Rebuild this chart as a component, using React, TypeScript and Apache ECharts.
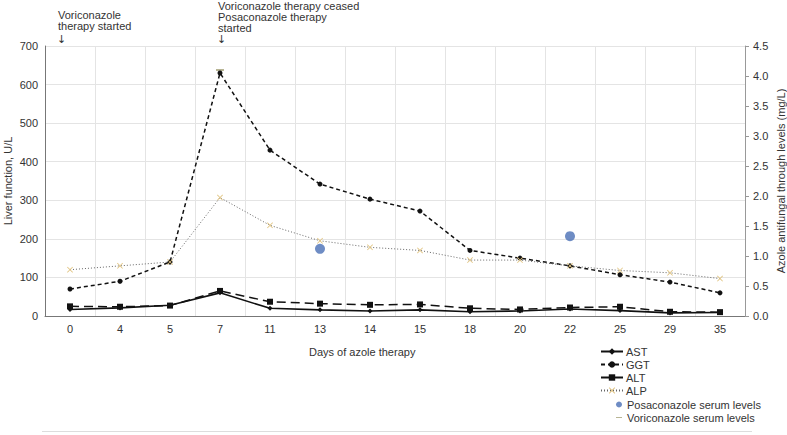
import React, { useEffect, useRef } from "react";
import * as echarts from "echarts";

const days = ["0", "4", "5", "7", "11", "13", "14", "15", "18", "20", "22", "25", "29", "35"];
const ast = [17, 21, 28, 60, 20, 16, 13, 16, 11, 13, 18, 14, 8, 9];
const ggt = [70, 90, 140, 630, 430, 342, 303, 272, 170, 150, 130, 107, 88, 60];
const alt = [25, 24, 27, 65, 37, 32, 29, 30, 20, 17, 22, 24, 11, 10];
const alp = [120, 130, 140, 307, 235, 195, 178, 170, 145, 145, 130, 118, 112, 97];
const posaconazole: (number | string)[] = ["-", "-", "-", "-", "-", 1.12, "-", "-", "-", "-", 1.33, "-", "-", "-"];
const voriconazole: (number | string)[] = ["-", "-", "-", 4.1, "-", "-", "-", "-", "-", "-", "-", "-", "-", "-"];

const FONT = "Liberation Sans, Arial, Helvetica, sans-serif";
const XMARK = "path://M0,1L1,0L5,4L9,0L10,1L6,5L10,9L9,10L5,6L1,10L0,9L4,5Z";
const DASH_ICON = "path://M0,0L0.01,0L0,0.01Z M0,2.4H6V3.6H0Z M6,6L5.99,6L6,5.99Z";

export default function App() {
  const ref = useRef<HTMLDivElement>(null);
  useEffect(() => {
    document.body.style.margin = "0";
    if (!ref.current) return;
    const chart = echarts.init(ref.current, undefined, { renderer: "svg" });
    const text = { fontFamily: FONT, fontSize: 11, color: "#333" };
    chart.setOption({
      animation: false,
      textStyle: { fontFamily: FONT },
      grid: { left: 45, right: 42, top: 46, bottom: 119, containLabel: false, outerBoundsMode: "none" },
      xAxis: {
        type: "category",
        data: days,
        boundaryGap: true,
        axisLine: { lineStyle: { color: "#777", width: 1 } },
        axisTick: { show: false },
        axisLabel: { ...text, margin: 7 },
        splitLine: { show: true, lineStyle: { color: "#e4e4e4" } },
      },
      yAxis: [
        {
          type: "value",
          min: 0,
          max: 700,
          interval: 100,
          name: "Liver function, U/L",
          nameLocation: "middle",
          nameRotate: 90,
          nameGap: 32,
          nameMoveOverlap: false,
          nameTextStyle: { ...text },
          axisLine: { show: true, lineStyle: { color: "#777" } },
          axisTick: { show: false },
          axisLabel: { ...text, margin: 7 },
          splitLine: { show: true, lineStyle: { color: "#e4e4e4" } },
        },
        {
          type: "value",
          min: 0,
          max: 4.5,
          interval: 0.5,
          position: "right",
          name: "Azole antifungal through levels (mg/L)",
          nameLocation: "middle",
          nameRotate: 90,
          nameGap: 30,
          nameMoveOverlap: false,
          nameTextStyle: { ...text },
          axisLine: { show: true, lineStyle: { color: "#999" } },
          axisTick: { show: true, length: 4, lineStyle: { color: "#999" } },
          axisLabel: { ...text, margin: 8, formatter: (v: number) => v.toFixed(1) },
          splitLine: { show: false },
        },
      ],
      legend: [
        {
          orient: "vertical",
          left: 595,
          top: 341,
          height: 60,
          itemWidth: 22,
          itemHeight: 8,
          itemGap: 2,
          textStyle: { ...text, lineHeight: 11, padding: [0, 0, 0, -2] },
          data: ["AST", "GGT", "ALT", "ALP"],
        },
        {
          orient: "vertical",
          left: 611,
          top: 394,
          height: 36,
          itemWidth: 6,
          itemHeight: 6,
          itemGap: 2,
          textStyle: { ...text, lineHeight: 11 },
          data: [
            { name: "Posaconazole serum levels", icon: "circle" },
            { name: "Voriconazole serum levels", icon: DASH_ICON },
          ],
        },
      ],
      graphic: [
        {
          type: "text",
          left: 58,
          top: 9,
          style: { text: "Voriconazole\ntherapy started", font: `11px ${FONT}`, fill: "#333", lineHeight: 11.5 },
        },
        {
          type: "text",
          left: 57,
          top: 34,
          style: { text: "↓", font: `11px DejaVu Sans`, fill: "#333" },
        },
        {
          type: "text",
          left: 218,
          top: 0,
          style: {
            text: "Voriconazole therapy ceased\nPosaconazole therapy\nstarted",
            font: `11px ${FONT}`,
            fill: "#333",
            lineHeight: 11.2,
          },
        },
        {
          type: "text",
          left: 217,
          top: 34,
          style: { text: "↓", font: `11px DejaVu Sans`, fill: "#333" },
        },
        {
          type: "text",
          left: 309,
          top: 346,
          style: { text: "Days of azole therapy", font: `11px ${FONT}`, fill: "#333" },
        },
        {
          type: "line",
          shape: { x1: 42, y1: 431.5, x2: 752, y2: 431.5 },
          style: { stroke: "#ddd", lineWidth: 1 },
        },
      ],
      series: [
        {
          name: "AST",
          type: "line",
          data: ast,
          symbol: "diamond",
          symbolSize: 5,
          itemStyle: { color: "#111" },
          lineStyle: { color: "#111", width: 1.6, type: "solid" },
        },
        {
          name: "GGT",
          type: "line",
          data: ggt,
          symbol: "circle",
          symbolSize: 5,
          itemStyle: { color: "#111" },
          lineStyle: { color: "#111", width: 1.5, type: [4, 3] },
        },
        {
          name: "ALT",
          type: "line",
          data: alt,
          symbol: "rect",
          symbolSize: 6,
          itemStyle: { color: "#111" },
          lineStyle: { color: "#111", width: 1.5, type: [9, 5] },
        },
        {
          name: "ALP",
          type: "line",
          data: alp,
          symbol: XMARK,
          symbolSize: 6,
          itemStyle: { color: "#e2c685" },
          lineStyle: { color: "#666", width: 1, type: [1, 2] },
        },
        {
          name: "Posaconazole serum levels",
          type: "scatter",
          yAxisIndex: 1,
          data: posaconazole,
          symbol: "circle",
          symbolSize: 10,
          itemStyle: { color: "#4a6fb5" },
        },
        {
          name: "Voriconazole serum levels",
          type: "scatter",
          yAxisIndex: 1,
          data: voriconazole,
          symbol: "rect",
          symbolSize: [8, 2],
          itemStyle: { color: "#a6a27a" },
        },
      ],
    });
    return () => chart.dispose();
  }, []);
  return <div ref={ref} style={{ width: 787, height: 435 }} />;
}
